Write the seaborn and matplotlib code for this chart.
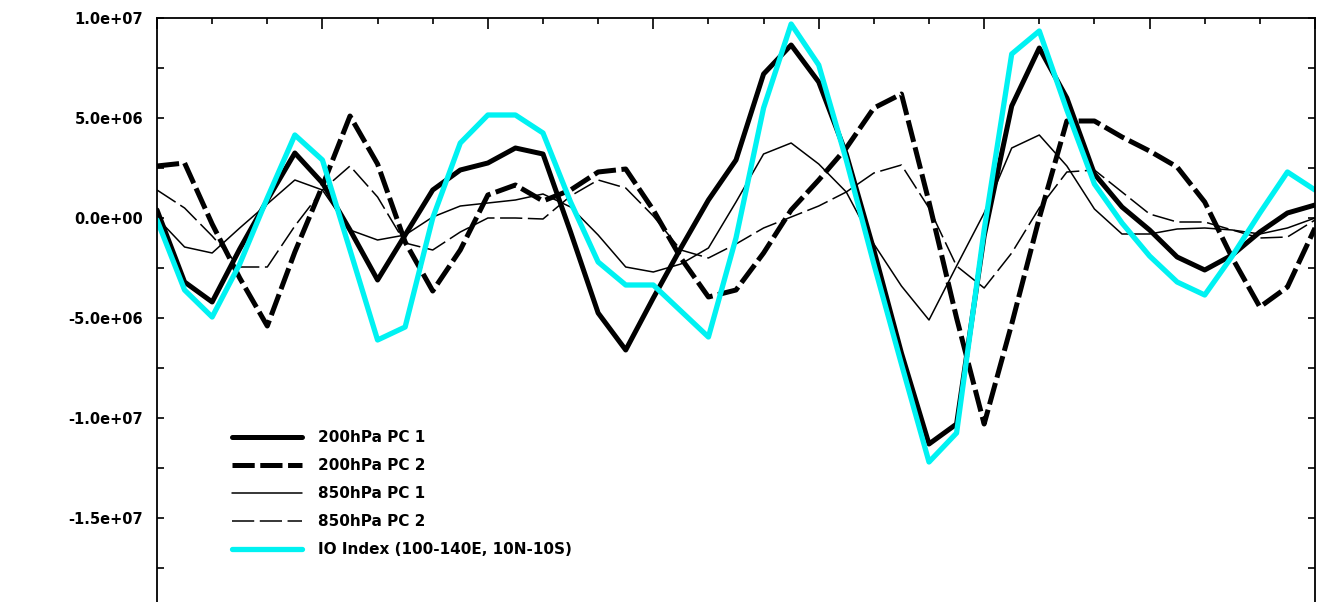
import numpy as np
import pandas as pd
import matplotlib
matplotlib.use("Agg")
import matplotlib.pyplot as plt
import seaborn as sns

# =========================
# DATA (values in units of 1e6)
# =========================

SCALE = 1e6

pc1_200 = [0.4, -3.2, -4.2, -1.55, 0.9, 3.25, 1.75, -0.6, -3.1, -0.85,
           1.4, 2.4, 2.75, 3.5, 3.2, -0.7, -4.75, -6.6, -4.0, -1.5,
           0.9, 2.9, 7.2, 8.65, 6.8, 3.2, -1.6, -6.75, -11.3, -10.3,
           -0.9, 5.6, 8.5, 6.0, 2.2, 0.55, -0.6, -1.95, -2.6, -1.85,
           -0.7, 0.25, 0.65]

pc2_200 = [2.6, 2.75, -0.3, -3.0, -5.4, -1.7, 1.6, 5.1, 2.7, -1.2,
           -3.65, -1.6, 1.15, 1.65, 0.85, 1.4, 2.3, 2.45, 0.4, -2.0,
           -3.95, -3.6, -1.75, 0.4, 1.9, 3.5, 5.5, 6.2, 0.8, -5.0,
           -10.3, -5.3, 0.0, 4.85, 4.85, 4.05, 3.35, 2.55, 0.8, -2.0,
           -4.45, -3.45, -0.5]

pc1_850 = [0.0, -1.45, -1.75, -0.5, 0.7, 1.9, 1.4, -0.6, -1.1, -0.85,
           0.05, 0.6, 0.75, 0.9, 1.2, 0.55, -0.85, -2.45, -2.7, -2.3,
           -1.5, 0.8, 3.2, 3.75, 2.7, 1.3, -1.3, -3.4, -5.1, -2.4,
           0.25, 3.5, 4.15, 2.6, 0.45, -0.8, -0.8, -0.55, -0.5, -0.6,
           -0.8, -0.5, 0.0]

pc2_850 = [1.4, 0.5, -0.9, -2.45, -2.45, -0.4, 1.4, 2.6, 1.05, -1.25,
           -1.6, -0.7, 0.0, 0.0, -0.05, 1.1, 1.9, 1.5, 0.1, -1.6,
           -2.0, -1.3, -0.5, 0.05, 0.6, 1.3, 2.25, 2.65, 0.5, -2.4,
           -3.5, -1.75, 0.5, 2.3, 2.4, 1.3, 0.2, -0.2, -0.2, -0.6,
           -1.0, -0.95, -0.1]

io_index = [-0.1, -3.6, -4.95, -2.3, 1.0, 4.15, 2.9, -1.6, -6.1, -5.45,
            0.0, 3.75, 5.15, 5.15, 4.25, 0.8, -2.2, -3.35, -3.35, -4.65,
            -5.95, -1.0, 5.5, 9.7, 7.65, 2.9, -2.3, -7.3, -12.2, -10.75,
            -0.6, 8.2, 9.35, 5.4, 1.7, -0.25, -1.9, -3.2, -3.85, -1.9,
            0.25, 2.3, 1.4]

labels = ["200hPa PC 1", "200hPa PC 2", "850hPa PC 1", "850hPa PC 2",
          "IO Index (100-140E, 10N-10S)"]

ytick_vals = [1.0e7, 5.0e6, 0.0, -5.0e6, -1.0e7, -1.5e7]
ytick_labels = ["1.0e+07", "5.0e+06", "0.0e+00", "-5.0e+06", "-1.0e+07", "-1.5e+07"]

# =========================
# STYLE
# =========================

sns.set_theme(style="ticks")
plt.rcParams["font.family"] = ["DejaVu Sans"]
plt.rcParams["lines.scale_dashes"] = False
plt.rcParams["text.color"] = "black"
plt.rcParams["ytick.color"] = "black"
plt.rcParams["xtick.color"] = "black"

styles = [
    dict(color="black", linewidth=3.6, linestyle="-"),
    dict(color="black", linewidth=3.6, linestyle=(0, (16, 4))),
    dict(color="black", linewidth=1.1, linestyle="-"),
    dict(color="black", linewidth=1.1, linestyle=(0, (16, 4))),
    dict(color="#00f2f2", linewidth=3.8, linestyle="-"),
]

series = [pc1_200, pc2_200, pc1_850, pc2_850, io_index]
t = np.arange(len(io_index))

# =========================
# PLOT
# =========================

fig = plt.figure(figsize=(13.23, 6.02), dpi=100)
ax = fig.add_axes([157 / 1323, 1 - 618 / 602, (1315 - 157) / 1323, 600 / 602])

for vals, lab, st in zip(series, labels, styles):
    df = pd.DataFrame({"t": t, "v": np.array(vals) * SCALE})
    sns.lineplot(data=df, x="t", y="v", ax=ax, label=lab, **st)

ax.set_xlim(0, 42)
ax.set_ylim(-2.0e7, 1.0e7)

ax.set_yticks(ytick_vals)
ax.set_yticklabels(ytick_labels, fontsize=10.5, fontweight="bold", color="black")
ax.set_yticks(np.arange(-2.0e7, 1.0e7 + 1, 2.5e6), minor=True)
ax.set_xticks(np.arange(0, 43, 6))
ax.set_xticks(np.arange(0, 43, 2), minor=True)

ax.tick_params(axis="y", which="both", direction="in", left=True, right=True,
               length=5, width=1.2, pad=10, colors="black")
ax.tick_params(axis="x", which="major", direction="in", top=True, bottom=False,
               labelbottom=False, length=8, width=1.2, colors="black")
ax.tick_params(axis="x", which="minor", direction="in", top=True, bottom=False,
               length=4, width=1.2, colors="black")

ax.set_xlabel("")
ax.set_ylabel("")
for sp in ax.spines.values():
    sp.set_linewidth(1.3)
    sp.set_color("black")

leg = ax.legend(loc="upper left", bbox_to_anchor=(232 / 1323, 1 - 430 / 602),
                bbox_transform=fig.transFigure, frameon=False,
                prop=dict(size=11, weight="bold"), handlelength=4.6,
                handletextpad=1.0, labelspacing=0.85, borderpad=0,
                borderaxespad=0)
for txt in leg.get_texts():
    txt.set_color("black")

fig.savefig("out.png", dpi=100)
